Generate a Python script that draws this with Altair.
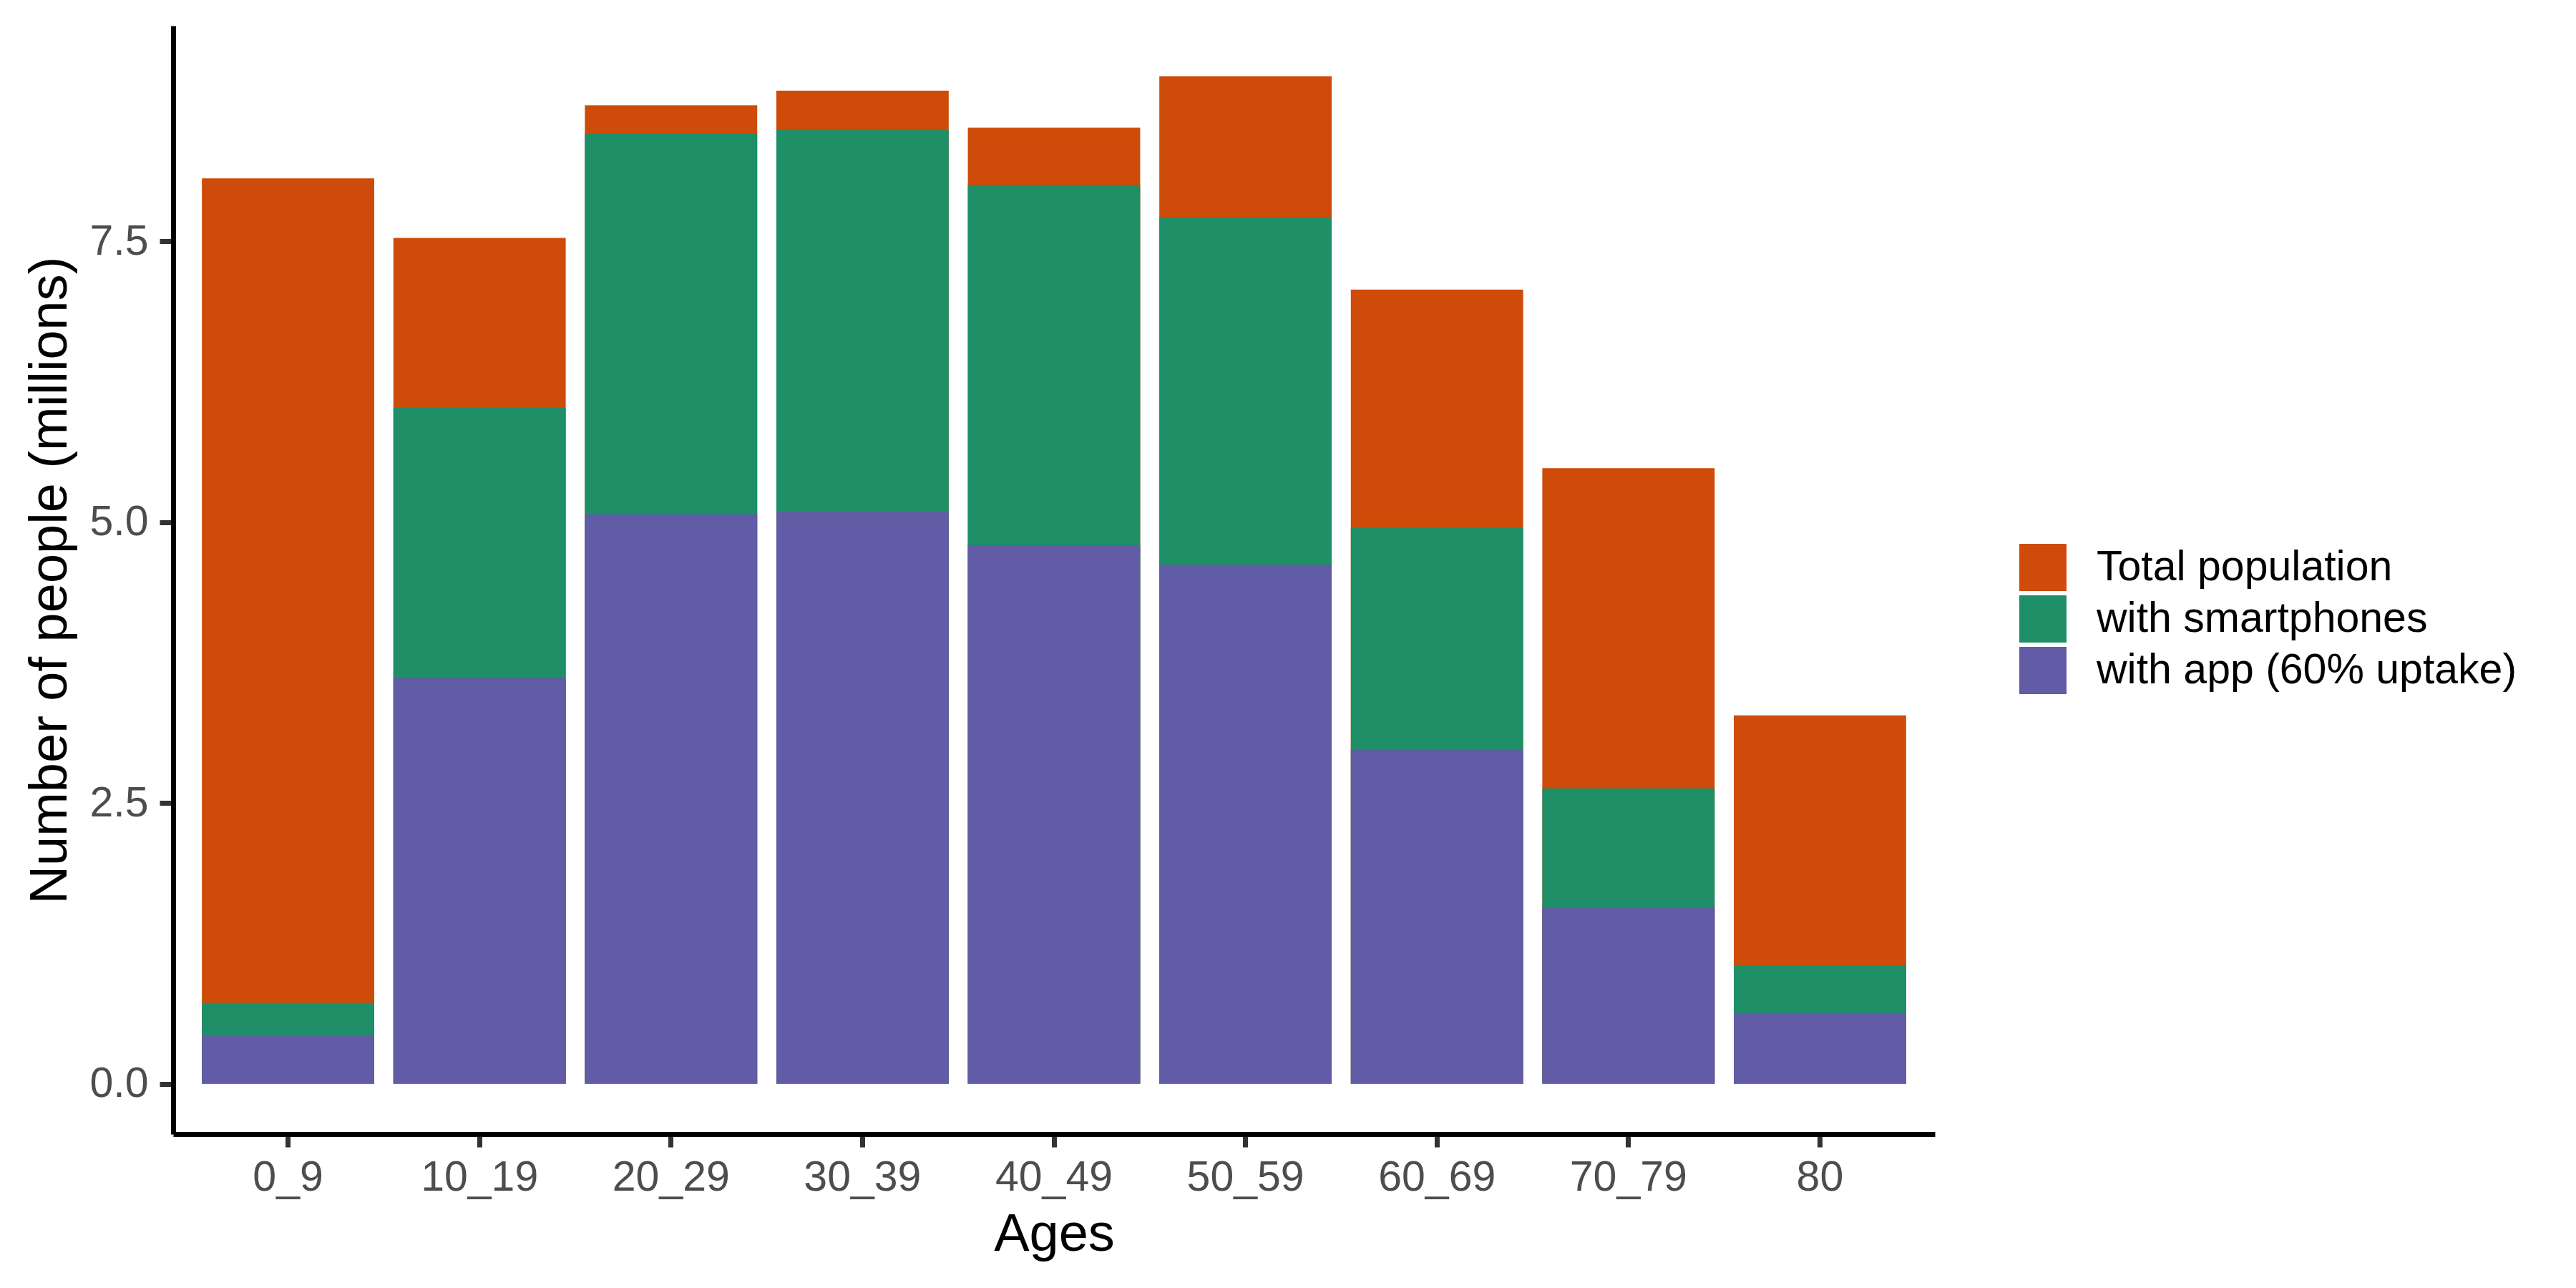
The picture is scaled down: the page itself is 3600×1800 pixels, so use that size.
import altair as alt
import pandas as pd

ages = ["0_9", "10_19", "20_29", "30_39", "40_49", "50_59", "60_69", "70_79", "80"]
total_population = [8.06, 7.53, 8.71, 8.84, 8.51, 8.97, 7.07, 5.48, 3.28]
with_smartphones = [0.72, 6.02, 8.46, 8.49, 8.00, 7.71, 4.95, 2.63, 1.05]
with_app = [0.43, 3.61, 5.07, 5.09, 4.79, 4.62, 2.97, 1.57, 0.63]

series_names = ["Total population", "with smartphones", "with app (60% uptake)"]
series_colors = ["#CE4B09", "#1E8F67", "#625BA5"]

rows = []
for layer, (name, vals) in enumerate(zip(series_names, [total_population, with_smartphones, with_app])):
    for a, v in zip(ages, vals):
        rows.append({"age": a, "value": v, "series": name, "layer": layer})
df = pd.DataFrame(rows)

FONT = "Liberation Sans"
W, H = 2462, 1549

chart = alt.Chart(df).mark_bar().encode(
    x=alt.X("age:N", sort=ages,
            scale=alt.Scale(paddingInner=0.1, paddingOuter=0.15),
            axis=alt.Axis(title="Ages", labelAngle=0, labelFont=FONT, labelFontSize=59,
                          labelColor="#4D4D4D", labelPadding=13, tickSize=18, tickWidth=7,
                          tickColor="#333333", domainColor="black", domainWidth=7,
                          titleFont=FONT, titleFontSize=74, titleFontWeight="normal",
                          titleColor="black", titleX=W / 2, titleY=162,
                          titleBaseline="alphabetic", titleAlign="center")),
    y=alt.Y("value:Q", stack=None,
            scale=alt.Scale(domain=[-0.4485, 9.4185], nice=False, zero=False),
            axis=alt.Axis(title="Number of people (millions)", values=[0, 2.5, 5, 7.5],
                          format=".1f", labelFont=FONT, labelFontSize=59,
                          labelColor="#4D4D4D", labelPadding=16, tickSize=19, tickWidth=7,
                          tickColor="#333333", domainColor="black", domainWidth=7,
                          titleFont=FONT, titleFontSize=74, titleFontWeight="normal",
                          titleColor="black", titleAngle=270, titleX=-150, titleY=H / 2,
                          titleBaseline="alphabetic", titleAlign="center")),
    color=alt.Color("series:N", sort=series_names,
                    scale=alt.Scale(domain=series_names, range=series_colors),
                    legend=alt.Legend(title=None, orient="none", legendX=2580, legendY=724,
                                      symbolType="square", symbolSize=4356,
                                      symbolStrokeWidth=0, symbolOpacity=1,
                                      labelFont=FONT, labelFontSize=59, labelColor="black",
                                      labelOffset=42, rowPadding=6, padding=0,
                                      labelLimit=1000)),
    order=alt.Order("layer:Q", sort="ascending"),
).properties(
    width=W, height=H,
    autosize=alt.AutoSizeParams(type="none"),
    padding={"left": 234, "top": 28, "right": 880, "bottom": 200},
).configure_view(stroke=None).configure_axis(grid=False)

chart.save("out.html", embed_options={"renderer": "svg", "actions": False})
